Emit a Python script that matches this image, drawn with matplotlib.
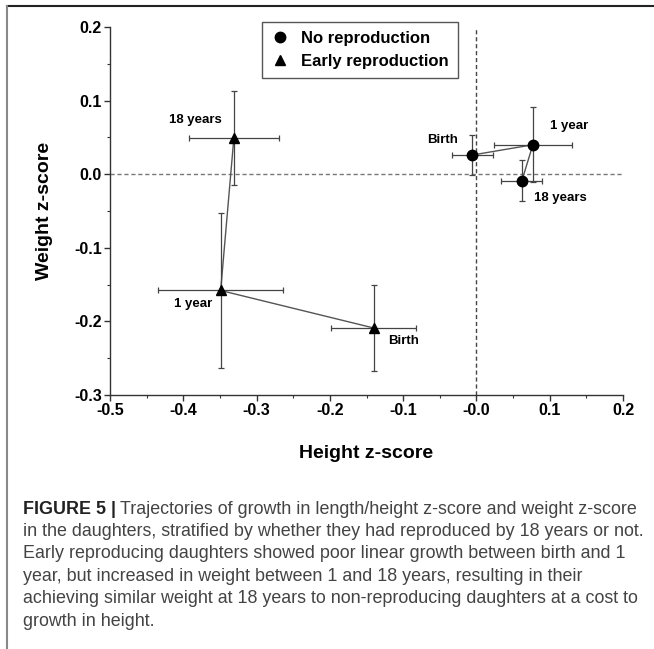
import matplotlib
matplotlib.use("Agg")
import matplotlib.pyplot as plt
from matplotlib.lines import Line2D
from matplotlib.ticker import MultipleLocator, FuncFormatter

# data (Birth, 1 year, 18 years)
stages = ["Birth", "1 year", "18 years"]

no_x = [-0.006, 0.077, 0.062]
no_y = [0.026, 0.040, -0.009]
no_xerr = [0.028, 0.053, 0.028]
no_yerr = [0.027, 0.051, 0.028]

early_x = [-0.140, -0.349, -0.331]
early_y = [-0.209, -0.158, 0.049]
early_xerr = [0.058, 0.085, 0.061]
early_yerr = [0.058, 0.105, 0.064]

# label offsets (in data units) for the stage annotations
no_lab = [(-0.040, 0.020), (0.049, 0.025), (0.053, -0.023)]
early_lab = [(0.041, -0.017), (-0.038, -0.018), (-0.052, 0.024)]

caption = [
    "Trajectories of growth in length/height z-score and weight z-score",
    "in the daughters, stratified by whether they had reproduced by 18 years or not.",
    "Early reproducing daughters showed poor linear growth between birth and 1",
    "year, but increased in weight between 1 and 18 years, resulting in their",
    "achieving similar weight at 18 years to non-reproducing daughters at a cost to",
    "growth in height.",
]

plt.rcParams['font.family'] = ['Liberation Sans', 'DejaVu Sans']
plt.rcParams['font.weight'] = 'bold'
plt.rcParams['axes.labelweight'] = 'bold'

W, H = 654, 649
fig = plt.figure(figsize=(W / 100, H / 100), dpi=100)
ax = fig.add_axes([110 / W, 1 - 395 / H, 513 / W, 368 / H])

ax.set_xlim(-0.5, 0.2)
ax.set_ylim(-0.3, 0.2)

ax.axhline(0, color="#777777", lw=1, ls=(0, (3, 2)), zorder=1)
ax.axvline(0, color="#444444", lw=1, ls=(0, (3, 2)), zorder=1)

ax.plot(no_x, no_y, color="#555555", lw=1, zorder=2)
ax.plot(early_x, early_y, color="#555555", lw=1, zorder=2)

ax.errorbar(no_x, no_y, xerr=no_xerr, yerr=no_yerr, fmt="none",
            ecolor="#444444", elinewidth=0.9, capsize=2, capthick=0.9, zorder=2)
ax.errorbar(early_x, early_y, xerr=early_xerr, yerr=early_yerr, fmt="none",
            ecolor="#444444", elinewidth=0.9, capsize=2, capthick=0.9, zorder=2)

ax.plot(no_x, no_y, "o", color="black", ms=7.5, ls="none", zorder=3,
        label="No reproduction")
ax.plot(early_x, early_y, "^", color="black", ms=7, ls="none", zorder=3,
        label="Early reproduction")

for i, s in enumerate(stages):
    ax.text(no_x[i] + no_lab[i][0], no_y[i] + no_lab[i][1], s,
            ha="center", va="center", fontsize=9.5)
    ax.text(early_x[i] + early_lab[i][0], early_y[i] + early_lab[i][1], s,
            ha="center", va="center", fontsize=9.5)

ax.spines["top"].set_visible(False)
ax.spines["right"].set_visible(False)
for sp in ("left", "bottom"):
    ax.spines[sp].set_color("#333333")
    ax.spines[sp].set_linewidth(1)


def xfmt(v, pos):
    if abs(v) < 1e-9:
        return "-0.0"
    return "%.1f" % v


def yfmt(v, pos):
    if abs(v) < 1e-9:
        return "0.0"
    return "%.1f" % v


ax.xaxis.set_major_locator(MultipleLocator(0.1))
ax.xaxis.set_minor_locator(MultipleLocator(0.05))
ax.yaxis.set_major_locator(MultipleLocator(0.1))
ax.yaxis.set_minor_locator(MultipleLocator(0.05))
ax.xaxis.set_major_formatter(FuncFormatter(xfmt))
ax.yaxis.set_major_formatter(FuncFormatter(yfmt))
ax.tick_params(which="major", length=4, width=1, color="#333333", pad=2,
               labelsize=11.5)
ax.tick_params(which="minor", length=2, width=0.8, color="#333333")

ax.set_ylabel("Weight z-score", fontsize=14, fontweight="bold", labelpad=15)
ax.set_xlabel("Height z-score", fontsize=14, fontweight="bold", labelpad=19)

leg = fig.legend(loc="upper left", bbox_to_anchor=(262 / W, 1 - 22 / H),
                 borderaxespad=0, fancybox=False, edgecolor="#555555",
                 framealpha=1, prop={"weight": "bold", "size": 12},
                 handlelength=1, handletextpad=0.8, borderpad=0.55,
                 labelspacing=0.45)
leg.get_frame().set_linewidth(1)

# panel frame
fig.add_artist(Line2D([7 / W, 1], [1 - 6 / H, 1 - 6 / H], color="#222222", lw=1.5))
fig.add_artist(Line2D([7 / W, 7 / W], [0, 1 - 6 / H], color="#888888", lw=1.5))

# caption
y0 = 509
cs = 12.9
t = fig.text(23 / W, 1 - y0 / H, "FIGURE 5 |", fontsize=cs, fontweight="bold",
             color="#222222", va="center")
fig.canvas.draw()
bb = t.get_window_extent()
fig.text(bb.x1 / W + 4 / W, 1 - y0 / H, caption[0], fontsize=cs,
         fontweight="normal", color="#444444", va="center")
for i, line in enumerate(caption[1:]):
    fig.text(23 / W, 1 - (y0 + 22.4 * (i + 1)) / H, line, fontsize=cs,
             fontweight="normal", color="#444444", va="center")

fig.savefig("out.png", dpi=100)
